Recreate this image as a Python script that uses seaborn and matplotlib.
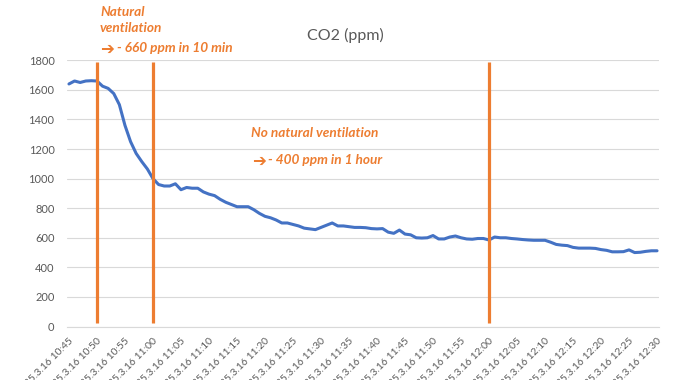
import matplotlib
matplotlib.use("Agg")
import matplotlib.pyplot as plt
import seaborn as sns
import pandas as pd
import numpy as np

# ---- data (one reading per minute, 10:45 .. 12:30) ----
co2_ppm = [
    1640, 1660, 1650, 1660, 1662, 1660, 1625, 1610, 1575, 1500,
    1360, 1250, 1170, 1115, 1065, 1000, 960, 950, 950, 965,
    925, 940, 935, 935, 910, 895, 885, 860, 840, 825,
    810, 810, 810, 790, 765, 745, 735, 720, 700, 700,
    690, 680, 665, 660, 655, 670, 685, 700, 680, 680,
    675, 670, 670, 668, 662, 660, 662, 638, 630, 652,
    625, 620, 600, 598, 600, 615, 592, 592, 605, 612,
    600, 592, 590, 595, 595, 585, 605, 600, 600, 595,
    592, 588, 585, 583, 583, 583, 570, 555, 550, 547,
    535, 530, 530, 530, 528, 520, 515, 505, 505, 506,
    518, 500, 502, 508, 512, 512,
]
start_time = "2025-03-16 10:45"
tick_every_min = 5
vent_marks = ["10:50", "11:00", "12:00"]
title = "CO2 (ppm)"
note1_lines = ["Natural", "ventilation"]
note1_detail = "- 660 ppm in 10 min"
note2_title = "No natural ventilation"
note2_detail = "- 400 ppm in 1 hour"
arrow = "➔"
y_ticks = [0, 200, 400, 600, 800, 1000, 1200, 1400, 1600, 1800]

times = pd.date_range(start_time, periods=len(co2_ppm), freq="min")
df = pd.DataFrame({"minute": np.arange(len(co2_ppm)), "co2": co2_ppm, "time": times})

BLUE = "#4472C4"
ORANGE = "#ED7D31"
GRAY = "#595959"
GRID = "#D9D9D9"

sns.set_theme(style="white")
plt.rcParams["font.family"] = ["Lato", "DejaVu Sans"]

W, H = 674, 380
fig = plt.figure(figsize=(W / 100, H / 100), dpi=100)
ax = fig.add_axes([67 / W, 1 - 326.5 / H, (659 - 67) / W, (326.5 - 60.3) / H])

sns.lineplot(data=df, x="minute", y="co2", ax=ax, color=BLUE, linewidth=2.2, zorder=3)

# vertical markers
for t in vent_marks:
    idx = int(np.where(df["time"].dt.strftime("%H:%M") == t)[0][0])
    ax.vlines(df["minute"][idx], 24, 1786, color=ORANGE, linewidth=2.3, zorder=4)

ax.set_xlim(-0.35, len(co2_ppm) - 1 + 0.35)
ax.set_ylim(0, 1800)
ax.set_yticks(y_ticks)
ax.set_yticklabels([str(v) for v in y_ticks], color=GRAY, fontsize=8)
ax.yaxis.grid(True, color=GRID, linewidth=0.8)
ax.set_axisbelow(True)

tick_idx = df["minute"][::tick_every_min]
tick_lbl = [t.strftime("%Y.%-m.%d %H:%M") for t in df["time"][::tick_every_min]]
ax.set_xticks(tick_idx)
ax.set_xticklabels(tick_lbl, rotation=45, ha="right", va="top",
                   rotation_mode="anchor", color=GRAY, fontsize=7.5)
ax.tick_params(axis="x", length=0, pad=7)
ax.tick_params(axis="y", length=0, pad=9)

for s in ["top", "right", "left"]:
    ax.spines[s].set_visible(False)
ax.spines["bottom"].set_color(GRID)
ax.spines["bottom"].set_linewidth(0.8)
ax.set_xlabel("")
ax.set_ylabel("")

fig.text(345 / W, 1 - 35 / H, title, ha="center", va="center", color=GRAY, fontsize=11.5)

tkw = dict(color=ORANGE, fontweight="bold", fontstyle="italic", fontsize=9.8,
           va="top", ha="left")
akw = dict(color=ORANGE, fontweight="bold", fontsize=12, va="center", ha="left",
           family=["DejaVu Sans"])
fig.text(100 / W, 1 - 6 / H, note1_lines[0], **tkw)
fig.text(100 / W, 1 - 22 / H, note1_lines[1], **tkw)
fig.text(100 / W, 1 - 49 / H, arrow, **akw)
fig.text(117 / W, 1 - 42 / H, note1_detail, **tkw)
fig.text(251 / W, 1 - 127 / H, note2_title, **tkw)
fig.text(252 / W, 1 - 161 / H, arrow, **akw)
fig.text(268 / W, 1 - 154 / H, note2_detail, **tkw)

fig.savefig("out.png", dpi=100)
